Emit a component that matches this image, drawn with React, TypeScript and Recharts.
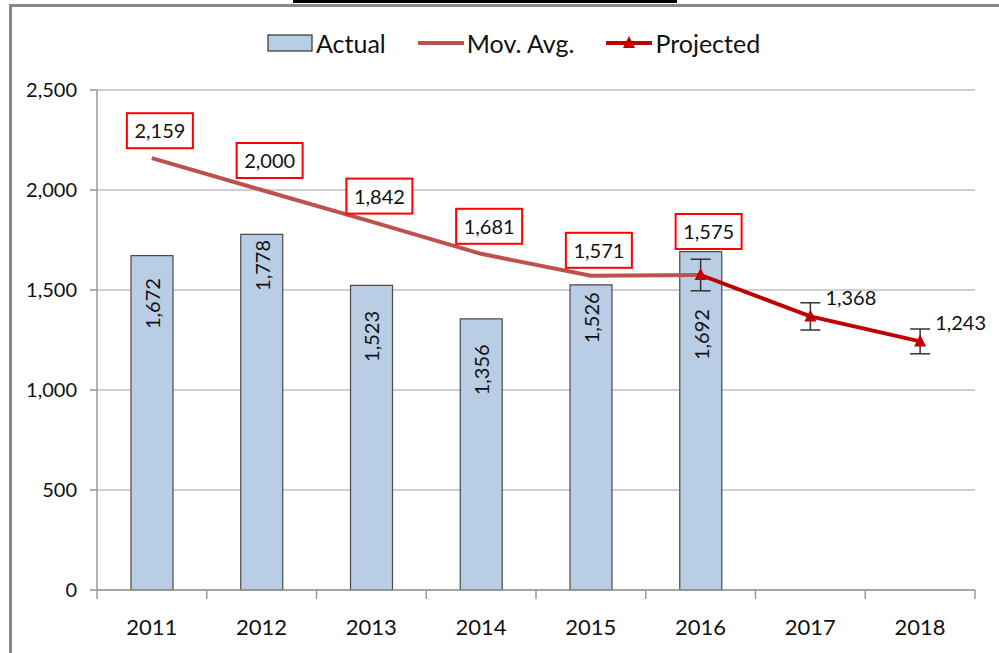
import React from 'react';
import {
  ComposedChart,
  Bar,
  Line,
  XAxis,
  YAxis,
  CartesianGrid,
  LabelList,
  ErrorBar,
} from 'recharts';

const years = ['2011', '2012', '2013', '2014', '2015', '2016', '2017', '2018'];
const actual = [1672, 1778, 1523, 1356, 1526, 1692, null, null];
const movAvg = [2159, 2000, 1842, 1681, 1571, 1575, null, null];
const projected = [null, null, null, null, null, 1575, 1368, 1243];
const projectedErr = [null, null, null, null, null, 79, 68, 62];
const yTicks = [0, 500, 1000, 1500, 2000, 2500];

// label placement (px), like Excel's hand-nudged labels
const barLabelDrop = [48, 31, 51, 51, 33, 83, 0, 0];
const boxLabelLift = [28, 30, 26, 28, 26, 44, 0, 0];

const data = years.map((year, i) => ({
  year,
  actual: actual[i],
  movAvg: movAvg[i],
  projected: projected[i],
  err: projectedErr[i],
}));

const FONT = 'Lato, "Open Sans", sans-serif';
const fmt = (v: number) => v.toLocaleString('en-US');

function BarValue(props: any) {
  const { x, y, width, value, index } = props;
  if (value == null) return null;
  const cx = x + width / 2;
  const cy = y + barLabelDrop[index];
  return (
    <text
      x={cx}
      y={cy}
      transform={`rotate(-90 ${cx} ${cy})`}
      textAnchor="middle"
      dominantBaseline="central"
      fontSize={20}
      fontFamily={FONT}
      fill="#111"
    >
      {fmt(value)}
    </text>
  );
}

function BoxValue(props: any) {
  const { x, y, value, index } = props;
  if (value == null) return null;
  const cx = x + 8;
  const cy = y - boxLabelLift[index];
  return (
    <g>
      <rect x={cx - 33} y={cy - 17} width={66} height={35} fill="#fff" stroke="#ff0000" strokeWidth={2} />
      <text x={cx} y={cy} textAnchor="middle" dominantBaseline="central" fontSize={20} fontFamily={FONT} fill="#111">
        {fmt(value)}
      </text>
    </g>
  );
}

function ProjValue(props: any) {
  const { x, y, value, index } = props;
  if (value == null || index === 5) return null;
  return (
    <text x={x + 15} y={y - 19} dominantBaseline="central" fontSize={20} fontFamily={FONT} fill="#111">
      {fmt(value)}
    </text>
  );
}

function Triangle(props: any) {
  const { cx, cy, payload } = props;
  if (cy == null || payload?.projected == null) return null;
  return <path d={`M${cx},${cy - 7} L${cx + 6},${cy + 5} L${cx - 6},${cy + 5} Z`} fill="#C00000" />;
}

function YearTick(props: any) {
  const { x, y, payload, index, visibleTicksCount } = props;
  const half = payload.offset ?? 0;
  return (
    <g>
      <line x1={x - half} y1={y} x2={x - half} y2={y + 9} stroke="#999" strokeWidth={1.5} />
      {index === visibleTicksCount - 1 && (
        <line x1={x + half} y1={y} x2={x + half} y2={y + 9} stroke="#999" strokeWidth={1.5} />
      )}
      <text x={x} y={y + 36} textAnchor="middle" dominantBaseline="central" fontSize={22} fontFamily={FONT} fill="#111">
        {payload.value}
      </text>
    </g>
  );
}

const legendItems = [
  { name: 'Actual', kind: 'box' },
  { name: 'Mov. Avg.', kind: 'line' },
  { name: 'Projected', kind: 'tri' },
];

function LegendRow() {
  return (
    <div
      style={{
        position: 'absolute',
        top: 28,
        left: 267,
        display: 'flex',
        fontFamily: FONT,
        fontSize: 25,
        color: '#111',
        gap: 32,
      }}
    >
      {legendItems.map((it) => (
        <div key={it.name} style={{ display: 'flex', alignItems: 'center' }}>
          <svg width={46} height={28} style={{ marginRight: 3 }}>
            {it.kind === 'box' && <rect x={1} y={6} width={44} height={16} fill="#B9CDE5" stroke="#333" strokeWidth={1.2} />}
            {it.kind === 'line' && <line x1={0} y1={14} x2={46} y2={14} stroke="#C0504D" strokeWidth={4} />}
            {it.kind === 'tri' && (
              <g>
                <line x1={0} y1={14} x2={46} y2={14} stroke="#C00000" strokeWidth={4} />
                <path d="M23,7 L29,19 L17,19 Z" fill="#C00000" />
              </g>
            )}
          </svg>
          <span>{it.name}</span>
        </div>
      ))}
    </div>
  );
}

export default function App() {
  return (
    <div style={{ position: 'absolute', left: 0, top: 0, width: 999, height: 653, background: '#fff', overflow: 'hidden' }}>
      <div style={{ position: 'absolute', left: 293, top: 0, width: 384, height: 3, background: '#000' }} />
      <div
        style={{
          position: 'absolute',
          left: 9,
          top: 4,
          width: 1100,
          height: 800,
          borderLeft: '3px solid #888',
          borderTop: '3px solid #888',
        }}
      />
      <LegendRow />
      <div style={{ position: 'absolute', left: 0, top: 0 }}>
        <ComposedChart
          width={999}
          height={653}
          data={data}
          margin={{ top: 90, right: 24, bottom: 13, left: 0 }}
        >
          <CartesianGrid vertical={false} stroke="#BFBFBF" strokeWidth={1.5} />
          <XAxis
            dataKey="year"
            tickLine={false}
            tickSize={0}
            tickMargin={0}
            height={50}
            axisLine={{ stroke: '#999', strokeWidth: 1.5 }}
            tick={<YearTick />}
            interval={0}
          />
          <YAxis
            domain={[0, 2500]}
            ticks={yTicks}
            width={97}
            tickSize={7}
            tickMargin={13}
            tickFormatter={fmt}
            axisLine={{ stroke: '#999', strokeWidth: 1.5 }}
            tickLine={{ stroke: '#999', strokeWidth: 1.5 }}
            tick={{ fontSize: 20, fill: '#111', fontFamily: FONT }}
          />
          <Bar dataKey="actual" barSize={42} fill="#B9CDE5" stroke="#4A4A4A" strokeWidth={1.2} isAnimationActive={false}>
            <LabelList dataKey="actual" content={<BarValue />} />
          </Bar>
          <Line
            dataKey="movAvg"
            stroke="#C0504D"
            strokeWidth={4}
            dot={false}
            activeDot={false}
            isAnimationActive={false}
          >
            <LabelList dataKey="movAvg" content={<BoxValue />} />
          </Line>
          <Line
            dataKey="projected"
            stroke="#C00000"
            strokeWidth={4}
            dot={<Triangle />}
            activeDot={false}
            isAnimationActive={false}
          >
            <ErrorBar dataKey="err" width={10} stroke="#333" strokeWidth={1.5} direction="y" />
            <LabelList dataKey="projected" content={<ProjValue />} />
          </Line>
        </ComposedChart>
      </div>
    </div>
  );
}
